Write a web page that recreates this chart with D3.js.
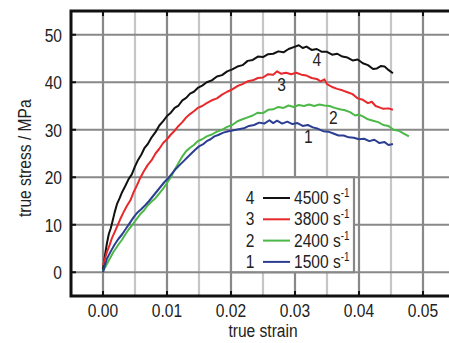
<!DOCTYPE html>
<html>
<head>
<meta charset="utf-8">
<script src="https://cdn.jsdelivr.net/npm/d3@7"></script>
<style>
  body { margin: 0; background: #fff; }
  text { font-family: "Liberation Sans", Arial, sans-serif; fill: #222; font-size: 19px; }
</style>
</head>
<body>
<div id="wrapper"></div>
<script>
// data: [true strain, true stress MPa]
const rateLabels = ["4", "3", "2", "1"]
const rateValues = ["4500", "3800", "2400", "1500"]
const rateColors = ["#111111", "#e8292b", "#4cb848", "#2c3e92"]

const curve4500 = [
  [0.0000, 0.5], [0.0003, 3.5], [0.0006, 6.0], [0.0009, 8.0], [0.0012, 9.2], [0.0015, 10.8],
  [0.0018, 12.5], [0.0022, 14.4], [0.0026, 15.6], [0.0030, 16.9], [0.0035, 18.2], [0.0040, 19.6],
  [0.0045, 20.6], [0.0050, 22.3], [0.0055, 23.7], [0.0060, 24.8], [0.0065, 26.2], [0.0070, 27.0],
  [0.0076, 28.4], [0.0082, 29.5], [0.0088, 30.9], [0.0094, 31.8], [0.0100, 32.9], [0.0106, 33.6],
  [0.0112, 34.6], [0.0118, 35.1], [0.0124, 36.2], [0.0130, 36.7], [0.0136, 37.6], [0.0142, 38.0],
  [0.0148, 38.8], [0.0155, 39.3], [0.0162, 40.0], [0.0170, 40.4], [0.0178, 41.2], [0.0186, 41.5],
  [0.0194, 42.3], [0.0202, 42.7], [0.0210, 43.3], [0.0218, 43.6], [0.0226, 44.5], [0.0234, 44.7],
  [0.0242, 45.4], [0.0250, 45.3], [0.0258, 45.9], [0.0266, 46.0], [0.0274, 46.5], [0.0282, 46.3],
  [0.0290, 47.0], [0.0298, 47.4], [0.0306, 47.8], [0.0312, 47.2], [0.0318, 47.5], [0.0326, 46.8],
  [0.0334, 47.0], [0.0342, 46.4], [0.0350, 46.4], [0.0358, 45.8], [0.0366, 46.0], [0.0374, 45.4],
  [0.0382, 45.2], [0.0390, 44.6], [0.0398, 44.8], [0.0406, 44.0], [0.0414, 43.6], [0.0422, 42.8],
  [0.0428, 42.9], [0.0434, 43.4], [0.0440, 43.3], [0.0446, 42.6], [0.0453, 41.9]
]
const curve3800 = [
  [0.0000, 1.5], [0.0003, 2.8], [0.0006, 4.2], [0.0010, 5.6], [0.0014, 7.2], [0.0018, 8.4],
  [0.0022, 9.6], [0.0027, 11.2], [0.0032, 12.6], [0.0037, 13.9], [0.0043, 15.2], [0.0048, 16.9],
  [0.0053, 18.3], [0.0058, 19.8], [0.0064, 21.3], [0.0070, 22.6], [0.0076, 23.6], [0.0082, 25.0],
  [0.0088, 26.0], [0.0094, 27.2], [0.0100, 28.0], [0.0106, 29.0], [0.0112, 29.8], [0.0118, 30.8],
  [0.0124, 31.6], [0.0130, 32.6], [0.0136, 33.3], [0.0142, 33.9], [0.0148, 34.6], [0.0155, 35.0],
  [0.0162, 35.6], [0.0170, 36.2], [0.0178, 36.6], [0.0186, 37.4], [0.0194, 38.0], [0.0202, 38.5],
  [0.0210, 39.2], [0.0218, 39.6], [0.0226, 40.2], [0.0234, 40.4], [0.0242, 40.9], [0.0250, 41.0],
  [0.0258, 41.7], [0.0266, 41.6], [0.0272, 42.3], [0.0278, 41.8], [0.0286, 42.0], [0.0294, 41.7],
  [0.0302, 42.0], [0.0310, 41.6], [0.0318, 41.4], [0.0326, 40.9], [0.0334, 40.7], [0.0340, 40.2],
  [0.0346, 40.6], [0.0350, 39.6], [0.0358, 39.0], [0.0366, 38.6], [0.0374, 38.3], [0.0382, 37.9],
  [0.0390, 37.5], [0.0398, 36.6], [0.0406, 36.3], [0.0414, 35.6], [0.0420, 35.9], [0.0426, 35.0],
  [0.0432, 34.7], [0.0438, 34.4], [0.0446, 34.5], [0.0453, 34.2]
]
const curve2400 = [
  [0.0000, 0.2], [0.0004, 1.2], [0.0008, 2.2], [0.0012, 3.2], [0.0016, 4.2], [0.0020, 5.0],
  [0.0025, 6.0], [0.0030, 6.9], [0.0035, 8.0], [0.0040, 9.0], [0.0046, 10.0], [0.0052, 11.1],
  [0.0058, 12.2], [0.0064, 13.0], [0.0070, 14.1], [0.0076, 14.9], [0.0082, 15.6], [0.0088, 16.6],
  [0.0094, 17.6], [0.0100, 18.8], [0.0106, 20.0], [0.0112, 21.6], [0.0118, 23.0], [0.0124, 24.4],
  [0.0130, 25.5], [0.0136, 26.2], [0.0142, 26.8], [0.0148, 27.6], [0.0155, 28.0], [0.0162, 28.6],
  [0.0170, 29.0], [0.0178, 29.6], [0.0186, 30.0], [0.0194, 30.6], [0.0202, 31.0], [0.0210, 31.8],
  [0.0218, 32.2], [0.0226, 32.6], [0.0234, 33.0], [0.0242, 33.6], [0.0250, 33.5], [0.0258, 34.2],
  [0.0266, 34.3], [0.0274, 34.8], [0.0282, 34.6], [0.0290, 35.1], [0.0298, 34.8], [0.0306, 35.2],
  [0.0314, 35.0], [0.0322, 35.3], [0.0330, 35.0], [0.0338, 35.3], [0.0346, 35.1], [0.0354, 35.0],
  [0.0362, 34.6], [0.0370, 34.3], [0.0378, 34.1], [0.0386, 33.7], [0.0394, 33.0], [0.0400, 33.2],
  [0.0406, 32.8], [0.0414, 32.2], [0.0422, 31.9], [0.0430, 31.6], [0.0438, 31.0], [0.0446, 30.8],
  [0.0454, 30.0], [0.0462, 29.8], [0.0470, 29.2], [0.0478, 28.6]
]
const curve1500 = [
  [0.0000, 0.0], [0.0003, 1.5], [0.0006, 2.8], [0.0009, 3.6], [0.0013, 4.6], [0.0018, 5.8],
  [0.0024, 7.0], [0.0030, 8.0], [0.0036, 9.2], [0.0042, 10.4], [0.0048, 11.6], [0.0054, 12.6],
  [0.0060, 13.3], [0.0066, 14.1], [0.0072, 15.0], [0.0078, 16.0], [0.0084, 17.0], [0.0090, 18.0],
  [0.0096, 19.0], [0.0102, 19.8], [0.0108, 20.8], [0.0114, 21.8], [0.0120, 22.6], [0.0126, 23.4],
  [0.0132, 24.2], [0.0138, 25.0], [0.0144, 25.8], [0.0150, 26.5], [0.0156, 26.9], [0.0162, 27.6],
  [0.0168, 28.0], [0.0174, 28.6], [0.0180, 28.9], [0.0188, 29.4], [0.0196, 29.7], [0.0204, 29.9],
  [0.0212, 30.1], [0.0220, 30.3], [0.0228, 30.8], [0.0236, 31.0], [0.0244, 31.5], [0.0252, 31.3],
  [0.0260, 32.0], [0.0266, 31.4], [0.0272, 31.9], [0.0280, 31.3], [0.0288, 31.7], [0.0296, 31.2],
  [0.0304, 31.4], [0.0312, 30.8], [0.0320, 31.0], [0.0328, 30.5], [0.0336, 30.2], [0.0344, 29.7],
  [0.0352, 29.6], [0.0360, 29.2], [0.0368, 28.8], [0.0376, 28.8], [0.0384, 28.4], [0.0392, 28.3],
  [0.0400, 28.0], [0.0408, 28.1], [0.0416, 27.6], [0.0424, 27.9], [0.0432, 27.2], [0.0440, 27.4],
  [0.0446, 26.8], [0.0453, 27.0]
]
const curves = [curve4500, curve3800, curve2400, curve1500]

// where the numbers 4, 3, 2, 1 sit next to the curves
const curveLabelAt = [[0.0334, 43.4], [0.0279, 38.2], [0.0360, 31.2], [0.0321, 27.2]]

const xTicks = [0.00, 0.01, 0.02, 0.03, 0.04, 0.05]
const xMinorTicks = [0.005, 0.015, 0.025, 0.035, 0.045]
const yTicks = [0, 10, 20, 30, 40, 50]

// the original lettering is a tall narrow sans, so squeeze it sideways
const squeeze = 0.82
const placeText = (x, y, rotate = 0) =>
  `translate(${x}, ${y})${rotate ? ` rotate(${rotate})` : ""} scale(${squeeze}, 1)`

function drawChart() {

  // 1. dimensions
  let dimensions = {
    width: 449,
    height: 343,
    margin: { top: 11, left: 71, bottom: 47 },
    plotWidth: 384, // runs past the right edge of the picture
  }
  dimensions.boundedHeight = dimensions.height - dimensions.margin.top - dimensions.margin.bottom

  // 2. canvas
  const svg = d3.select("#wrapper")
    .append("svg")
      .attr("width", dimensions.width)
      .attr("height", dimensions.height)

  const left = dimensions.margin.left
  const right = left + dimensions.plotWidth
  const top = dimensions.margin.top
  const bottom = top + dimensions.boundedHeight

  // 3. scales
  const xScale = d3.scaleLinear()
    .domain([-0.005, 0.055])
    .range([left, right])
  const yScale = d3.scaleLinear()
    .domain([-5, 55])
    .range([bottom, top])

  // 4. grid
  const grid = svg.append("g")
  grid.selectAll(".minor-x")
    .data(xMinorTicks)
    .enter().append("line")
      .attr("x1", d => xScale(d)).attr("x2", d => xScale(d))
      .attr("y1", top).attr("y2", bottom)
      .attr("stroke", "#c6c6c6")
      .attr("stroke-width", 2.2)
  grid.selectAll(".major-x")
    .data(xTicks)
    .enter().append("line")
      .attr("x1", d => xScale(d)).attr("x2", d => xScale(d))
      .attr("y1", top).attr("y2", bottom)
      .attr("stroke", "#888")
      .attr("stroke-width", 2.2)
  grid.selectAll(".major-y")
    .data(yTicks)
    .enter().append("line")
      .attr("x1", left).attr("x2", right)
      .attr("y1", d => yScale(d)).attr("y2", d => yScale(d))
      .attr("stroke", "#888")
      .attr("stroke-width", 2.2)

  // 5. curves
  const lineGenerator = d3.line()
    .x(d => xScale(d[0]))
    .y(d => yScale(d[1]))

  svg.append("g").selectAll("path")
    .data(curves)
    .enter().append("path")
      .attr("d", lineGenerator)
      .attr("fill", "none")
      .attr("stroke", (d, i) => rateColors[i])
      .attr("stroke-width", 2)
      .attr("stroke-linejoin", "round")

  svg.append("g").selectAll("text")
    .data(curveLabelAt)
    .enter().append("text")
      .attr("transform", d => placeText(xScale(d[0]), yScale(d[1])))
      .attr("text-anchor", "middle")
      .text((d, i) => rateLabels[i])

  // 6. frame and ticks
  const frame = svg.append("g")
  frame.append("path")
    .attr("d", `M${right},${top}H${left}V${bottom}H${right}`)
    .attr("fill", "none")
    .attr("stroke", "#111")
    .attr("stroke-width", 3)
  frame.selectAll(".tick-top")
    .data(xTicks)
    .enter().append("line")
      .attr("x1", d => xScale(d)).attr("x2", d => xScale(d))
      .attr("y1", top).attr("y2", top + 5)
      .attr("stroke", "#111").attr("stroke-width", 2)
  frame.selectAll(".tick-bottom")
    .data(xTicks)
    .enter().append("line")
      .attr("x1", d => xScale(d)).attr("x2", d => xScale(d))
      .attr("y1", bottom).attr("y2", bottom - 5)
      .attr("stroke", "#111").attr("stroke-width", 2)
  frame.selectAll(".tick-left")
    .data(yTicks)
    .enter().append("line")
      .attr("x1", left).attr("x2", left + 5)
      .attr("y1", d => yScale(d)).attr("y2", d => yScale(d))
      .attr("stroke", "#111").attr("stroke-width", 2)

  // tick labels
  svg.append("g").selectAll("text")
    .data(xTicks)
    .enter().append("text")
      .attr("transform", d => placeText(xScale(d), bottom + 21))
      .attr("text-anchor", "middle")
      .text(d => d3.format(".2f")(d))
  svg.append("g").selectAll("text")
    .data(yTicks)
    .enter().append("text")
      .attr("transform", d => placeText(left - 9, yScale(d) + 7))
      .attr("text-anchor", "end")
      .text(d => d)

  // axis titles
  svg.append("text")
    .attr("transform", placeText(xScale(0.025), 337))
    .attr("text-anchor", "middle")
    .text("true strain")
  svg.append("text")
    .attr("transform", placeText(31, yScale(24), -90))
    .attr("text-anchor", "middle")
    .text("true stress / MPa")

  // 7. legend
  const legend = svg.append("g")
  legend.append("rect")
    .attr("x", xScale(0.02))
    .attr("y", yScale(20))
    .attr("width", 123)
    .attr("height", yScale(0) - yScale(20))
    .attr("fill", "#fff")
    .attr("stroke", "#888")
    .attr("stroke-width", 2.2)

  const rows = legend.selectAll(".legend-row")
    .data(rateValues)
    .enter().append("g")
      .attr("transform", (d, i) => `translate(0, ${197 + i * 21.3})`)
  rows.append("text")
    .attr("transform", placeText(250, 7))
    .attr("text-anchor", "middle")
    .text((d, i) => rateLabels[i])
  rows.append("line")
    .attr("x1", 263).attr("x2", 290)
    .attr("y1", 1).attr("y2", 1)
    .attr("stroke", (d, i) => rateColors[i])
    .attr("stroke-width", 2)
  const rowText = rows.append("text")
    .attr("transform", placeText(294, 7))
  rowText.append("tspan").text(d => d + " s")
  rowText.append("tspan")
    .attr("dy", -7)
    .style("font-size", "12px")
    .text("-1")
}
drawChart()
</script>
</body>
</html>
